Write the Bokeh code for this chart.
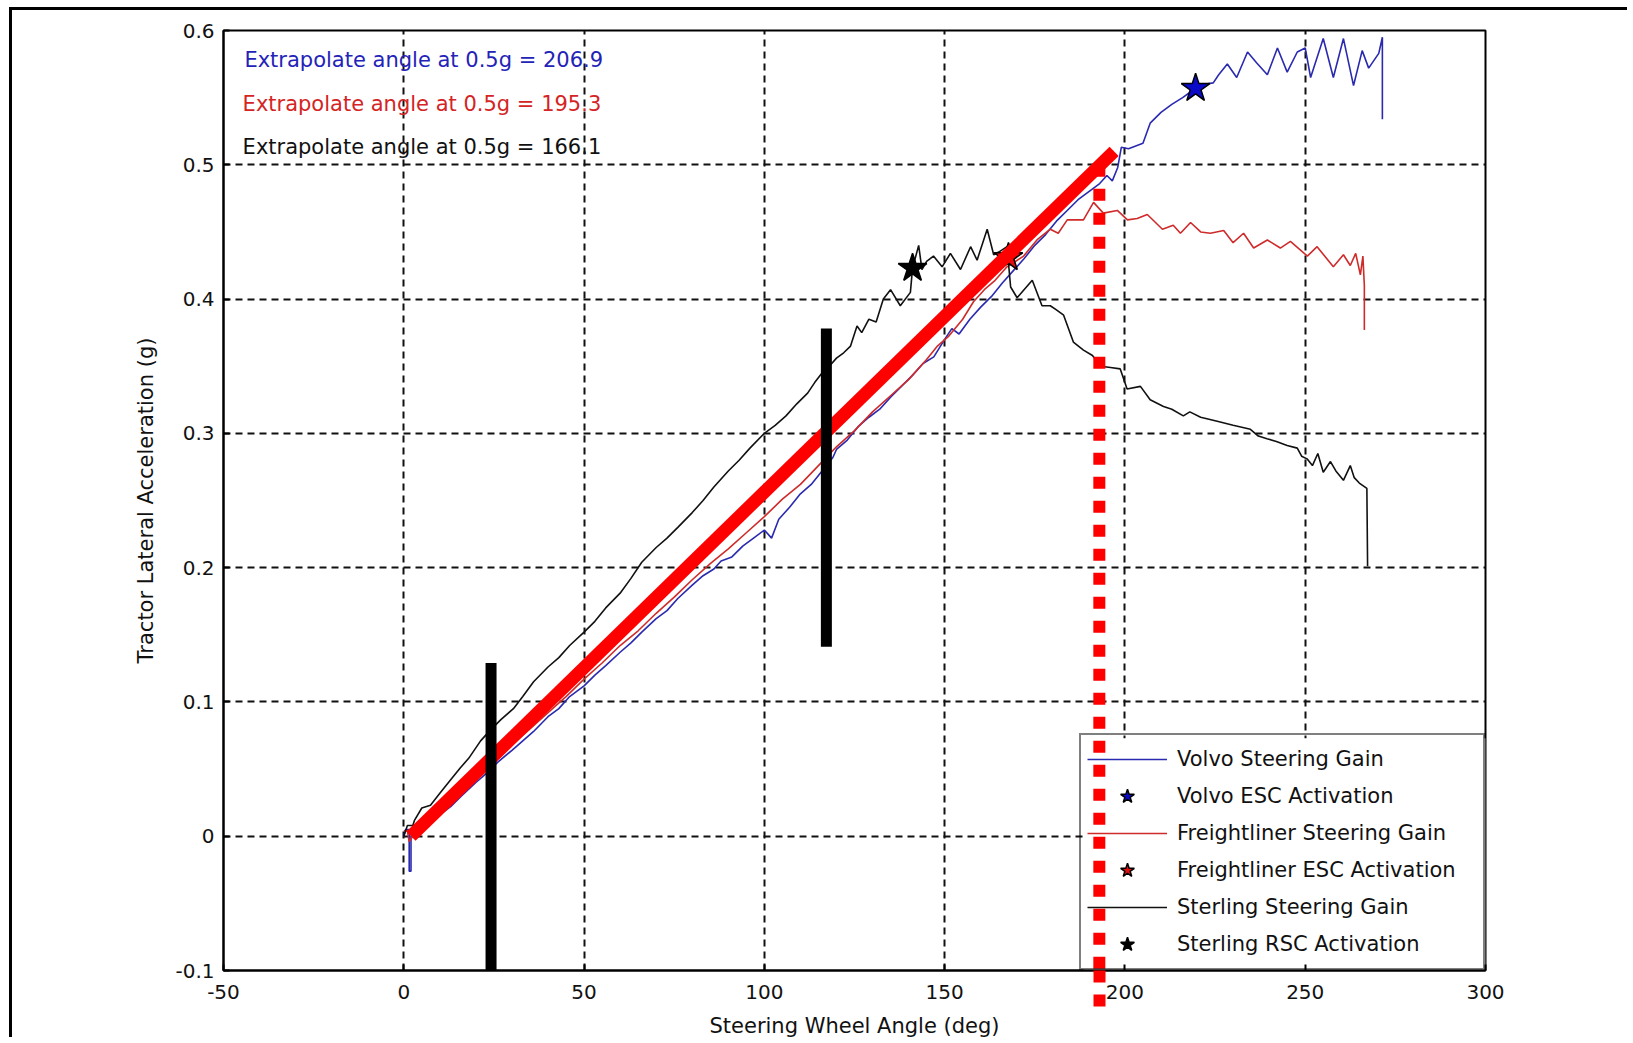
from bokeh.plotting import figure
from bokeh.models import FixedTicker, Legend, LegendItem, Label, Range1d, BoxAnnotation
from bokeh.embed import file_html
from bokeh.resources import INLINE

FONT = "DejaVu Sans"

# ---------------- data ----------------
x_ticks = [-50, 0, 50, 100, 150, 200, 250, 300]
x_tick_labels = ["-50", "0", "50", "100", "150", "200", "250", "300"]
y_ticks = [-0.1, 0.0, 0.1, 0.2, 0.3, 0.4, 0.5, 0.6]
y_tick_labels = ["-0.1", "0", "0.1", "0.2", "0.3", "0.4", "0.5", "0.6"]

volvo_x = [0, 0.5, 1.5, 1.5, 2, 2, 4, 7, 10, 13, 16, 20, 23, 26, 30, 33, 36, 40, 43, 46,
           50, 53, 56, 60, 63, 66, 70, 73, 76, 80, 83, 86, 88, 91, 94, 97, 100, 102, 104, 107,
           110, 113, 116, 119, 120, 123, 126, 129, 132, 135, 138, 141, 144, 147, 150, 152, 154, 157,
           160, 163, 166, 169, 172, 175, 178, 181, 184, 187, 190, 193, 195, 196.5, 198, 199, 201,
           203, 205, 207, 210, 213, 216, 219.6, 222, 224.5, 226, 228.4, 231, 234, 236.5, 239.5,
           242.3, 245, 247.8, 250, 251.5, 255, 257.8, 260.6, 263.4, 265.8, 267.6, 270.4, 271.4, 271.4]
volvo_y = [0.0, 0.005, 0.005, -0.026, -0.026, 0.0, 0.002, 0.010, 0.016, 0.022, 0.030, 0.040, 0.047,
           0.055, 0.064, 0.071, 0.078, 0.089, 0.095, 0.104, 0.112, 0.120, 0.127, 0.137, 0.144, 0.152,
           0.162, 0.168, 0.177, 0.187, 0.194, 0.199, 0.205, 0.208, 0.216, 0.222, 0.228, 0.222, 0.236,
           0.245, 0.255, 0.262, 0.272, 0.282, 0.288, 0.295, 0.305, 0.312, 0.318, 0.327, 0.335, 0.343,
           0.352, 0.357, 0.370, 0.378, 0.374, 0.385, 0.394, 0.402, 0.412, 0.421, 0.430, 0.440, 0.448,
           0.458, 0.466, 0.474, 0.480, 0.486, 0.492, 0.488, 0.498, 0.513, 0.512, 0.514, 0.516, 0.531,
           0.539, 0.545, 0.550, 0.557, 0.560, 0.561, 0.567, 0.575, 0.565, 0.584, 0.576, 0.567, 0.587,
           0.569, 0.584, 0.587, 0.565, 0.594, 0.565, 0.594, 0.559, 0.585, 0.572, 0.583, 0.595, 0.534]

freight_x = [0, 1, 1.5, 2.5, 5, 10, 15, 20, 25, 30, 35, 40, 45, 50, 55, 60, 65, 70, 75, 80, 85,
             90, 95, 100, 105, 110, 115, 120, 125, 130, 135, 140, 145, 148, 151, 155, 158, 161, 164,
             167.3, 171.9, 175.6, 179.3, 181.5, 184, 188.5, 191.3, 194, 197.9, 200.7, 203.4, 206.2,
             210.4, 213.4, 215.4, 218.2, 221, 223.7, 227.4, 230, 232.9, 235.7, 239.5, 243.1, 245.9,
             250.6, 253.3, 257.8, 260.6, 262.5, 264, 265.3, 266, 266.4, 266.4]
freight_y = [0.004, 0.004, -0.004, 0.0, 0.007, 0.019, 0.031, 0.043, 0.055, 0.068, 0.080, 0.092,
             0.104, 0.117, 0.129, 0.142, 0.153, 0.166, 0.178, 0.191, 0.203, 0.214, 0.226, 0.238,
             0.251, 0.262, 0.276, 0.290, 0.302, 0.316, 0.328, 0.340, 0.355, 0.365, 0.372, 0.385,
             0.398, 0.407, 0.414, 0.424, 0.432, 0.444, 0.452, 0.449, 0.459, 0.459, 0.472, 0.464,
             0.466, 0.459, 0.460, 0.463, 0.452, 0.455, 0.449, 0.457, 0.450, 0.449, 0.451, 0.442,
             0.449, 0.438, 0.444, 0.438, 0.443, 0.432, 0.439, 0.424, 0.433, 0.425, 0.434, 0.418,
             0.432, 0.410, 0.377]

sterling_x = [0, 1, 2.5, 3, 5, 7.4, 10, 13, 15.7, 18, 21.3, 24, 27, 30.4, 33, 36, 40, 43, 46, 50,
              53, 56, 60, 63, 66, 70, 73, 76, 80, 83, 86, 90, 93, 96, 100, 103, 106, 109, 112, 114,
              116, 118, 120, 122, 123.9, 125.7, 127, 129, 131, 133, 135, 137.7, 140.5, 141.1, 142.8,
              143.7, 145, 146.9, 149.3, 151.6, 154.4, 157.2, 159, 161.8, 163.6, 165, 167.3, 168.3,
              170.1, 174.3, 177, 179.3, 181, 183, 185.7, 188.5, 191, 193.2, 196, 198.7, 200.6, 204.3,
              207, 210.7, 213, 216.2, 218, 221, 225.6, 230, 234.8, 237, 239.4, 242, 245, 247.8, 249,
              250.5, 252, 253.5, 255, 257, 258.5, 260.6, 262.5, 263.6, 265, 267.1, 267.3]
sterling_y = [0.0, 0.008, 0.008, 0.012, 0.021, 0.023, 0.032, 0.042, 0.051, 0.058, 0.071, 0.079,
              0.087, 0.095, 0.104, 0.115, 0.126, 0.133, 0.142, 0.152, 0.160, 0.170, 0.181, 0.192,
              0.204, 0.215, 0.222, 0.230, 0.241, 0.250, 0.260, 0.272, 0.280, 0.289, 0.300, 0.306,
              0.313, 0.322, 0.330, 0.338, 0.345, 0.350, 0.356, 0.360, 0.365, 0.380, 0.375, 0.385,
              0.383, 0.400, 0.407, 0.395, 0.405, 0.423, 0.440, 0.422, 0.428, 0.432, 0.424, 0.434,
              0.422, 0.439, 0.429, 0.452, 0.433, 0.435, 0.439, 0.409, 0.401, 0.414, 0.395, 0.395,
              0.392, 0.388, 0.368, 0.362, 0.358, 0.350, 0.349, 0.348, 0.333, 0.335, 0.325, 0.320,
              0.318, 0.313, 0.316, 0.312, 0.309, 0.306, 0.303, 0.298, 0.296, 0.294, 0.291, 0.289,
              0.283, 0.281, 0.276, 0.285, 0.271, 0.279, 0.272, 0.265, 0.276, 0.267, 0.263, 0.259, 0.201]

volvo_star = (219.6, 0.557)
freight_star = (167.7, 0.431)
sterling_star = (141.1, 0.423)

extrap_x = [2.0, 197.0]
extrap_y = [0.0, 0.51]

bar_x = [24.2, 117.2]
bar_y_top = [0.129, 0.378]
bar_y_bottom = [-0.1075, 0.141]

dotted_x = 192.9
dotted_y_top = 0.50
dotted_y_bottom = -0.131

note_texts = ["Extrapolate angle at 0.5g =  206.9",
              "Extrapolate angle at 0.5g =  195.3",
              "Extrapolate angle at 0.5g =  166.1"]
note_x = [-44.2, -44.7, -44.7]
note_y = [0.578, 0.545, 0.513]
note_colors = ["#2323b8", "#d42424", "#111111"]

BLUE = "#2a2ab0"
RED = "#cf2b2b"
BLACK = "#111111"

# ---------------- layout constants ----------------
W, H = 1618, 1030
MB_L, MB_R, MB_T, MB_B = 211, 145, 20, 67
X0, X1, Y0, Y1 = -50, 300, -0.1, 0.6
FRAME_W = W - MB_L - MB_R
FRAME_H = H - MB_T - MB_B

LEG_PAD, LEG_GLYPH_W, LEG_ITEM_H, LEG_SPACING, LEG_STANDOFF, LEG_LABEL_W = 6, 80, 36, 1, 10, 300
N_ITEMS = 6
leg_w_px = 2 * LEG_PAD + LEG_GLYPH_W + LEG_STANDOFF + LEG_LABEL_W
leg_h_px = 2 * LEG_PAD + N_ITEMS * LEG_ITEM_H + (N_ITEMS - 1) * LEG_SPACING

# ---------------- figure ----------------
p = figure(width=W, height=H,
           x_range=Range1d(X0, X1), y_range=Range1d(Y0, Y1),
           output_backend="svg", toolbar_location=None,
           min_border_left=MB_L, min_border_right=MB_R,
           min_border_top=MB_T, min_border_bottom=MB_B)
p.margin = (7, 0, 0, 9)
p.styles = {"border-top": "3px solid black", "border-left": "3px solid black"}
p.background_fill_color = "white"
p.border_fill_color = "white"
p.outline_line_color = "black"
p.outline_line_width = 2

for ax, ticks, labels in ((p.xaxis[0], x_ticks, x_tick_labels), (p.yaxis[0], y_ticks, y_tick_labels)):
    ax.major_label_overrides = {t: l for t, l in zip(ticks, labels)}
    ax.major_tick_in = 6
    ax.major_tick_out = 0
    ax.axis_line_width = 2
    ax.axis_line_color = "black"
    ax.major_tick_line_color = "black"
    ax.major_tick_line_width = 2
    ax.major_label_text_font = FONT
    ax.major_label_text_font_size = "20px"
    ax.major_label_text_color = "#111111"
    ax.axis_label_text_font = FONT
    ax.axis_label_text_font_size = "21px"
    ax.axis_label_text_font_style = "normal"
    ax.axis_label_text_color = "#111111"

p.yaxis.ticker = FixedTicker(ticks=y_ticks)
p.yaxis.minor_tick_line_color = None
# the red dotted marker continues below the frame: drawn as an outward minor tick of the x axis
dotted_out_px = int(round((Y0 - dotted_y_bottom) / (Y1 - Y0) * FRAME_H))
p.xaxis.ticker = FixedTicker(ticks=x_ticks, minor_ticks=[dotted_x])
p.xaxis.minor_tick_in = 0
p.xaxis.minor_tick_out = dotted_out_px
p.xaxis.minor_tick_line_color = "#ff0000"
p.xaxis.minor_tick_line_width = 12
p.xaxis.minor_tick_line_dash = "12 12"
p.xaxis.minor_tick_line_dash_offset = 18
p.xaxis.major_label_standoff = 14 - dotted_out_px
p.xaxis.axis_label = "Steering Wheel Angle (deg)"
p.xaxis.axis_label_standoff = 12
p.yaxis.major_label_standoff = 9
p.yaxis.axis_label = "Tractor Lateral Acceleration (g)"
p.yaxis.axis_label_standoff = 14

for g, ticks in ((p.xgrid[0], x_ticks), (p.ygrid[0], y_ticks)):
    g.ticker = FixedTicker(ticks=ticks)
    g.grid_line_color = "#111111"
    g.grid_line_width = 2
    g.grid_line_dash = "7 5"

# white background of the legend box (keeps grid lines out, lets the dotted line cross it)
p.add_layout(BoxAnnotation(left=X1 - leg_w_px * (X1 - X0) / FRAME_W, right=X1,
                           bottom=Y0, top=Y0 + leg_h_px * (Y1 - Y0) / FRAME_H,
                           fill_color="white", fill_alpha=1.0, line_color=None,
                           level="underlay"))

# curves
r_volvo = p.line(volvo_x, volvo_y, line_color=BLUE, line_width=1.6)
r_freight = p.line(freight_x, freight_y, line_color=RED, line_width=1.6)
r_sterling = p.line(sterling_x, sterling_y, line_color=BLACK, line_width=1.6)

s_freight = p.scatter([freight_star[0]], [freight_star[1]], marker="star", size=30,
                      fill_color="#e01010", line_color="black", line_width=1.5)
s_sterling = p.scatter([sterling_star[0]], [sterling_star[1]], marker="star", size=30,
                       fill_color="black", line_color="black", line_width=1.5)
s_volvo = p.scatter([volvo_star[0]], [volvo_star[1]], marker="star", size=30,
                    fill_color="#0a0ac8", line_color="black", line_width=1.5)

# thick red extrapolation line
p.line(extrap_x, extrap_y, line_color="#ff0000", line_width=13, line_cap="butt")

# black vertical bars
p.segment(x0=bar_x, y0=bar_y_top, x1=bar_x, y1=bar_y_bottom,
          line_color="black", line_width=11, line_cap="butt")

# red dotted vertical line
p.segment(x0=[dotted_x], y0=[dotted_y_top], x1=[dotted_x], y1=[dotted_y_bottom],
          line_color="#ff0000", line_width=12, line_dash="12 12", line_cap="butt")

for t, x, y, c in zip(note_texts, note_x, note_y, note_colors):
    p.add_layout(Label(x=x, y=y, text=t, text_color=c, text_font=FONT,
                       text_font_size="21px", text_baseline="middle", text_align="left"))

legend = Legend(items=[
    LegendItem(label="Volvo Steering Gain", renderers=[r_volvo]),
    LegendItem(label="Volvo ESC Activation", renderers=[s_volvo]),
    LegendItem(label="Freightliner Steering Gain", renderers=[r_freight]),
    LegendItem(label="Freightliner ESC Activation", renderers=[s_freight]),
    LegendItem(label="Sterling Steering Gain", renderers=[r_sterling]),
    LegendItem(label="Sterling RSC Activation", renderers=[s_sterling]),
], location="bottom_right", margin=0, padding=LEG_PAD, spacing=LEG_SPACING,
    glyph_width=LEG_GLYPH_W, glyph_height=LEG_ITEM_H, label_height=LEG_ITEM_H,
    label_width=LEG_LABEL_W, label_standoff=LEG_STANDOFF,
    border_line_color="black", border_line_width=2, background_fill_alpha=0.0,
    label_text_font=FONT, label_text_font_size="21px", label_text_color="#111111")
p.add_layout(legend)

open("out.html", "w").write(file_html(p, INLINE))
